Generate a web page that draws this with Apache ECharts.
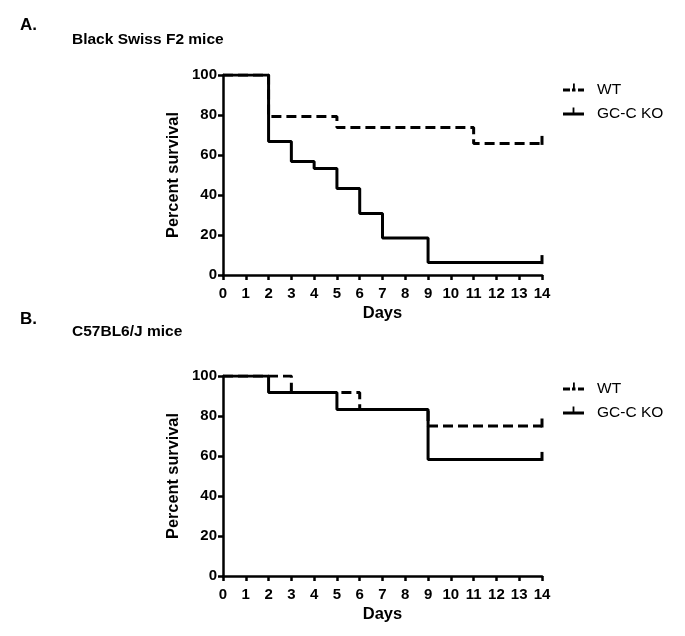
<!DOCTYPE html>
<html><head><meta charset="utf-8">
<script src="https://cdn.jsdelivr.net/npm/echarts@6/dist/echarts.min.js"></script>
<style>html,body{margin:0;padding:0;background:#fff}#c{width:685px;height:636px}</style>
</head><body><div id="c"></div>
<script>
// Panel A: Black Swiss F2 mice (Kaplan-Meier step points: [day, percent])
const daysTicks = [0,1,2,3,4,5,6,7,8,9,10,11,12,13,14];
const A_WT = [[0,100],[2,79.2],[5,73.7],[11,65.8],[14,65.8]];
const A_KO = [[0,100],[2,66.7],[3,56.7],[4,53.3],[5,43.3],[6,30.8],[7,18.5],[9,6.2],[14,6.2]];
// Panel B: C57BL6/J mice
const B_WT = [[0,100],[3,91.7],[6,83.3],[9,75],[14,75]];
const B_KO = [[0,100],[2,91.7],[5,83.3],[9,58.3],[14,58.3]];
const seriesNames = ['WT','GC-C KO'];

const FONT = 'Liberation Sans, Arial, Helvetica, sans-serif';
const chart = echarts.init(document.getElementById('c'), null, {renderer:'canvas'});

// legend icons: line (y 5..8) with small upward censor tick; degenerate point at y=13 centres the line
const ICON_WT = 'path://M0 5L7 5L7 8L0 8ZM9 5L12.5 5L12.5 8L9 8ZM10 0L11.8 0L11.8 5L10 5ZM15 5L21 5L21 8L15 8ZM10 13L10 13Z';
const ICON_KO = 'path://M0 5L21 5L21 8L0 8ZM9.6 0L11.4 0L11.4 5L9.6 5ZM10 13L10 13Z';

function pts(arr){
  return arr.map((p,i)=> i===arr.length-1 ? {value:p, symbol:'rect'} : {value:p, symbol:'none'});
}
function mkSeries(name, data, idx, dashed, z){
  return {
    name, type:'line', step:'end', xAxisIndex:idx, yAxisIndex:idx,
    data: pts(data), symbol:'rect', symbolSize:[3,9], symbolOffset:[0,-3],
    showSymbol:true, showAllSymbol:true, z,
    itemStyle:{color:'#000'},
    lineStyle:{color:'#000', width:3, type: dashed ? [10,5] : 'solid'},
    animation:false, silent:true
  };
}
function xAx(idx){
  return {type:'value', gridIndex:idx, min:0, max:14, interval:1,
    name:'Days', nameLocation:'middle', nameGap:30,
    nameTextStyle:{fontFamily:FONT, fontWeight:'bold', fontSize:16.5, color:'#000'},
    axisLine:{lineStyle:{color:'#000', width:2.5}},
    axisTick:{show:true, inside:false, length:5, lineStyle:{color:'#000', width:2.5}},
    axisLabel:{fontFamily:FONT, fontWeight:'bold', fontSize:15, color:'#000', margin:11},
    splitLine:{show:false}};
}
function yAx(idx){
  return {type:'value', gridIndex:idx, min:0, max:100, interval:20,
    name:'Percent survival', nameLocation:'middle', nameGap:41,
    nameTextStyle:{fontFamily:FONT, fontWeight:'bold', fontSize:16.3, color:'#000'},
    axisLine:{show:true, lineStyle:{color:'#000', width:2.5}},
    axisTick:{show:true, inside:false, length:5, lineStyle:{color:'#000', width:2.5}},
    axisLabel:{fontFamily:FONT, fontWeight:'bold', fontSize:15, color:'#000', margin:6},
    splitLine:{show:false}};
}
function legendAt(top){
  return {orient:'vertical', left:563, top, itemWidth:21, itemHeight:13, itemGap:8,
    selectedMode:false, padding:0,
    textStyle:{fontFamily:FONT, fontSize:15.5, color:'#000', padding:[0,0,0,8]},
    data:[{name:seriesNames[0], icon:ICON_WT, itemStyle:{color:'#000'}},
          {name:seriesNames[1], icon:ICON_KO, itemStyle:{color:'#000'}}]};
}
const tStyle = (s)=>({fontFamily:FONT, fontWeight:'bold', fontSize:s, color:'#000'});

chart.setOption({
  backgroundColor:'#fff',
  title:[
    {text:'A.', left:20, top:17, padding:0, textStyle:tStyle(17)},
    {text:'Black Swiss F2 mice', left:72, top:32, padding:0, textStyle:tStyle(15.5)},
    {text:'B.', left:20, top:311, padding:0, textStyle:tStyle(17)},
    {text:'C57BL6/J mice', left:72, top:324, padding:0, textStyle:tStyle(15.5)}
  ],
  legend:[legendAt(82), legendAt(381)],
  grid:[
    {left:223, top:75, width:319, height:200},
    {left:223, top:376, width:319, height:200}
  ],
  xAxis:[xAx(0), xAx(1)],
  yAxis:[yAx(0), yAx(1)],
  series:[
    mkSeries(seriesNames[0], A_WT, 0, true, 2),
    mkSeries(seriesNames[1], A_KO, 0, false, 3),
    mkSeries(seriesNames[0], B_WT, 1, true, 2),
    mkSeries(seriesNames[1], B_KO, 1, false, 3)
  ]
});
</script></body></html>
